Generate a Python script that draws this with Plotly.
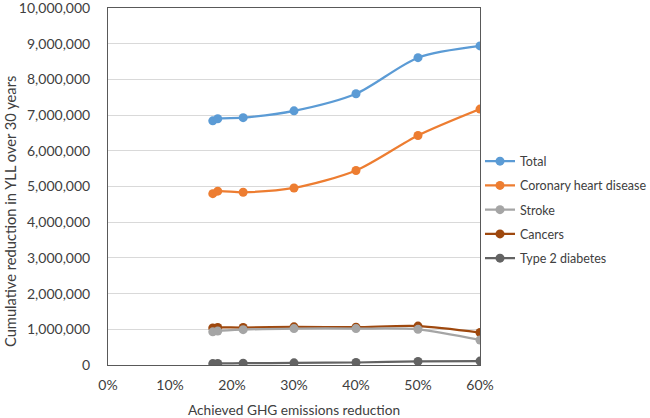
import plotly.graph_objects as go

# Data
ghg_reduction = [0.169, 0.177, 0.218, 0.30, 0.40, 0.50, 0.60]
total = [6840000, 6900000, 6930000, 7120000, 7600000, 8610000, 8940000]
chd = [4800000, 4870000, 4840000, 4960000, 5450000, 6430000, 7170000]
stroke = [930000, 950000, 990000, 1020000, 1020000, 1000000, 700000]
cancers = [1040000, 1050000, 1050000, 1070000, 1060000, 1090000, 910000]
t2d = [40000, 45000, 50000, 60000, 70000, 100000, 110000]

series_names = ["Total", "Coronary heart disease", "Stroke", "Cancers", "Type 2 diabetes"]
series_values = [total, chd, stroke, cancers, t2d]
series_colors = ["#5B9BD5", "#ED7D31", "#A5A5A5", "#9E480E", "#636363"]

x_tickvals = [0, 0.1, 0.2, 0.3, 0.4, 0.5, 0.6]
y_tickvals = list(range(0, 10000001, 1000000))

FONT = "Lato, Open Sans, sans-serif"
TXT = "#404040"

fig = go.Figure()
# draw in reverse so Total sits on top
for i, (name, vals, col) in reversed(list(enumerate(zip(series_names, series_values, series_colors)))):
    fig.add_trace(go.Scatter(
        x=ghg_reduction, y=vals, name=name, mode="lines+markers",
        line=dict(color=col, width=2.25, shape="spline", smoothing=0.8),
        marker=dict(color=col, size=9),
        legendgroup=name, legendrank=i + 1,
    ))

fig.update_layout(
    width=650, height=418,
    margin=dict(l=108, r=170, t=8, b=53, autoexpand=False),
    paper_bgcolor="white", plot_bgcolor="white",
    font=dict(family=FONT, size=13, color=TXT),
    showlegend=True,
    legend=dict(
        x=1.0, xanchor="left", y=0.612, yanchor="top",
        traceorder="grouped", tracegroupgap=5,
        font=dict(family=FONT, size=12.5, color=TXT),
        bgcolor="rgba(0,0,0,0)", itemwidth=30,
    ),
    xaxis=dict(
        range=[0, 0.6], tickvals=x_tickvals, tickformat=".0%",
        showgrid=False, zeroline=False,
        showline=True, linecolor="#595959", linewidth=1, mirror=True,
        ticks="", ticklabelstandoff=7, ticklabeloverflow="allow",
        tickfont=dict(family=FONT, size=14, color=TXT),
    ),
    yaxis=dict(
        range=[0, 10002000], tickvals=y_tickvals, tickformat=",d",
        showgrid=True, gridcolor="#D9D9D9", gridwidth=1, zeroline=False,
        showline=True, linecolor="#595959", linewidth=1, mirror=True,
        ticks="", ticklabelstandoff=14, ticklabeloverflow="allow",
        tickfont=dict(family=FONT, size=14, color=TXT),
    ),
    annotations=[
        dict(text="Achieved GHG emissions reduction", xref="paper", yref="paper",
             x=0.5, y=-0.126, xanchor="center", yanchor="middle", showarrow=False,
             font=dict(family=FONT, size=13.7, color=TXT)),
        dict(text="Cumulative reduction in YLL over 30 years", xref="paper", yref="paper",
             x=-0.262, y=0.43, xanchor="center", yanchor="middle", showarrow=False,
             textangle=-90, font=dict(family=FONT, size=14.7, color=TXT)),
    ],
)

fig.write_html(
    "out.html",
    config={"displayModeBar": False},
    post_script="document.body.style.margin='0';document.body.style.overflow='hidden';",
)
